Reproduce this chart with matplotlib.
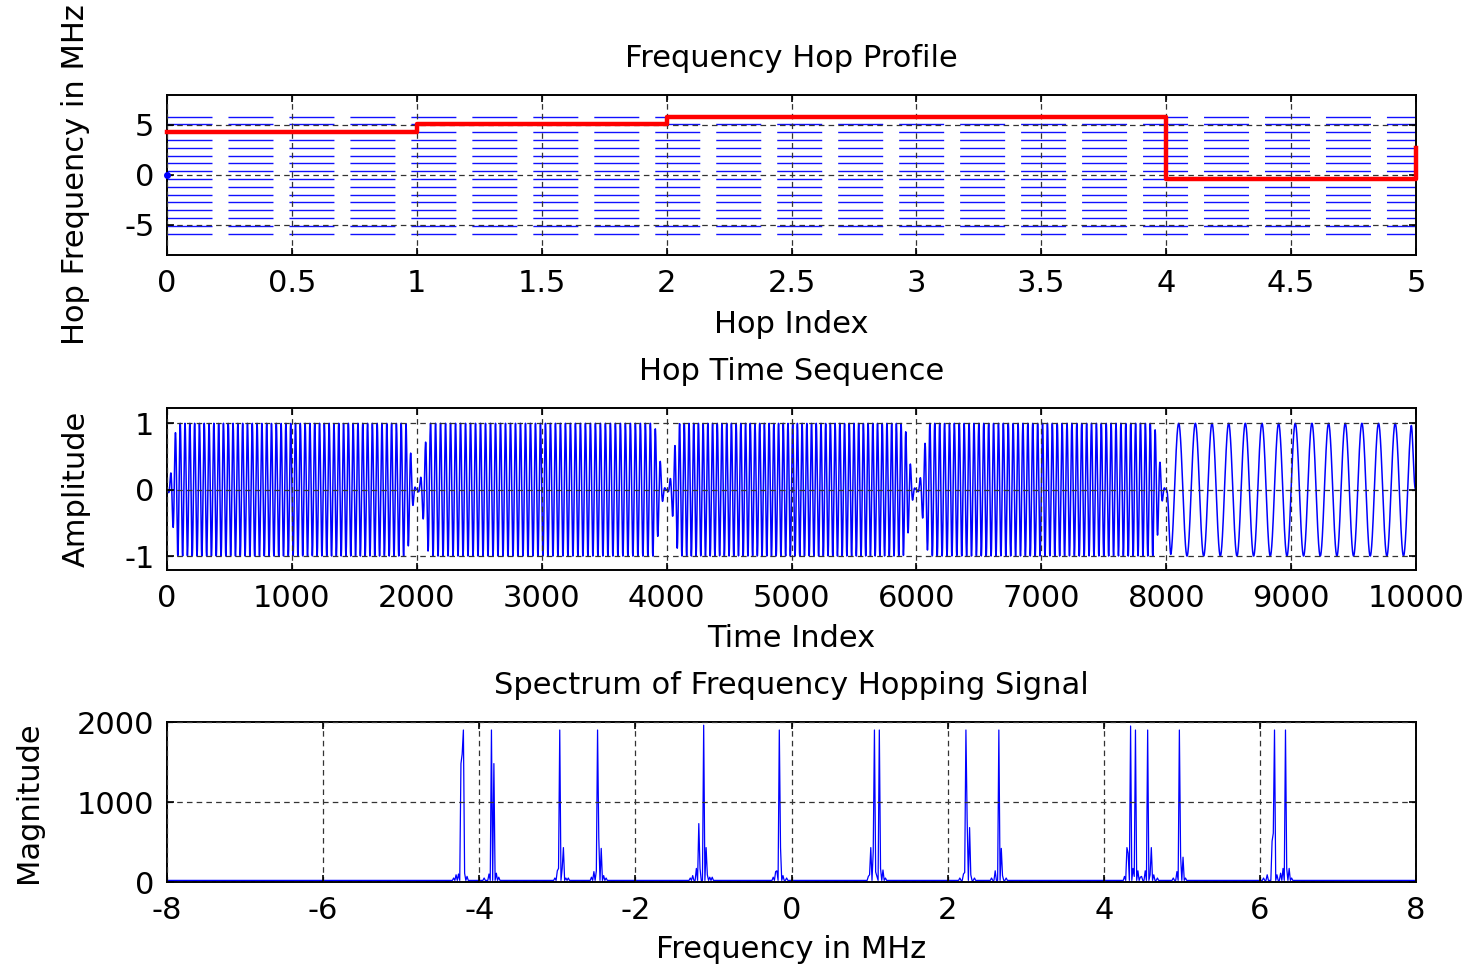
import numpy as np
import matplotlib
matplotlib.use("Agg")
import matplotlib.pyplot as plt

plt.rcParams["font.family"] = ["DejaVu Sans"]
plt.rcParams["font.size"] = 22
plt.rcParams["axes.unicode_minus"] = False
plt.rcParams["lines.scale_dashes"] = False

# ---------------- data ----------------
# Panel 1: hop profile (stairs)
hop_index = [0, 1, 2, 3, 4, 5]
hop_freq_mhz = [4.29, 5.07, 5.85, 5.85, -0.39, 2.73]
channel_levels_mhz = [-5.85, -5.07, -4.29, -3.51, -2.73, -1.95, -1.17, -0.39,
                      0.39, 1.17, 1.95, 2.73, 3.51, 4.29, 5.07, 5.85]
hop_xticks = [0, 0.5, 1, 1.5, 2, 2.5, 3, 3.5, 4, 4.5, 5]
hop_xticklabels = ["0", "0.5", "1", "1.5", "2", "2.5", "3", "3.5", "4", "4.5", "5"]
hop_yticks = [-5, 0, 5]

# Panel 2: time sequence (5 hops of 2000 samples)
hop_len = 2000
hop_cycles = [52, 50, 53, 51, 15]      # apparent cycles per hop
hop_taper = [90, 110, 110, 110, 40]    # samples of fade at hop edges
time_xticks = [0, 1000, 2000, 3000, 4000, 5000, 6000, 7000, 8000, 9000, 10000]
amp_yticks = [-1, 0, 1]

# Panel 3: spectrum peaks and side components (MHz, magnitude)
peak_freqs = [-4.21, -3.85, -2.97, -2.48, -1.12, -0.16, 1.06, 1.13,
              2.24, 2.65, 4.34, 4.41, 4.56, 4.97, 6.19, 6.33]
peak_mags = [1900, 1900, 1900, 1900, 1960, 1900, 1900, 1900,
             1900, 1900, 1950, 1900, 1900, 1900, 1900, 1900]
side_freqs = [-4.33, -4.30, -4.27, -4.24, -4.225, -4.19, -4.16,
              -3.935, -3.88, -3.84, -3.81, -3.785, -3.75,
              -3.03, -3.00, -2.985, -2.945, -2.925, -2.89, -2.86,
              -2.56, -2.53, -2.505, -2.47, -2.44, -2.41, -2.38,
              -1.29, -1.26, -1.215, -1.19, -1.165, -1.095, -1.08, -1.045, -1.01,
              -0.23, -0.20, -0.18, -0.14, -0.105, -0.06,
              0.985, 1.005, 1.02, 1.04, 1.083, 1.10, 1.147, 1.176, 1.20,
              2.16, 2.20, 2.22, 2.25, 2.275, 2.30, 2.34,
              2.565, 2.61, 2.66, 2.685, 2.71, 2.75,
              4.26, 4.30, 4.32, 4.37, 4.39, 4.44, 4.465, 4.49, 4.53,
              4.59, 4.61, 4.635, 4.68, 4.89, 4.935, 4.98, 5.01, 5.04,
              6.045, 6.095, 6.155, 6.175, 6.215, 6.26, 6.29, 6.35, 6.375, 6.40]
side_mags = [50, 90, 100, 1480, 1600, 110, 70,
             50, 100, 1600, 1480, 110, 60,
             50, 140, 170, 170, 430, 50, 50,
             60, 130, 140, 550, 420, 80, 50,
             50, 80, 170, 730, 170, 430, 90, 60, 60,
             60, 130, 140, 430, 80, 50,
             70, 90, 430, 380, 125, 70, 170, 150, 50,
             50, 100, 120, 780, 680, 90, 50,
             50, 140, 420, 420, 80, 50,
             70, 430, 360, 170, 70, 140, 60, 70, 140,
             90, 430, 90, 50, 50, 130, 330, 310, 50,
             50, 90, 510, 610, 90, 110, 170, 170, 170, 50]
spec_floor = 20
spec_bins = 1024
spec_xticks = [-8, -6, -4, -2, 0, 2, 4, 6, 8]
spec_yticks = [0, 1000, 2000]

# ---------------- derived series ----------------
segs = []
for cyc, tp in zip(hop_cycles, hop_taper):
    n = np.arange(hop_len)
    env = np.ones(hop_len)
    w = np.hanning(2 * tp)
    env[:tp] = w[:tp]
    env[-tp:] = w[tp:]
    segs.append(-np.sin(2 * np.pi * cyc * n / hop_len) * env)
signal = np.concatenate(segs)
t_index = np.arange(signal.size)

freq_axis = np.linspace(-8, 8, spec_bins, endpoint=False)
step = freq_axis[1] - freq_axis[0]
spectrum = np.full(spec_bins, float(spec_floor))
for f, m in zip(side_freqs + peak_freqs, side_mags + peak_mags):
    k = int(round((f + 8) / step))
    spectrum[k] = max(spectrum[k], m)

# ---------------- figure ----------------
fig = plt.figure(figsize=(14.72, 9.68), dpi=100)
W, H = 1472, 968
left, width = 167 / W, 1249 / W
ax1 = fig.add_axes([left, 1 - 255 / H, width, 160 / H])
ax2 = fig.add_axes([left, 1 - 570 / H, width, 162 / H])
ax3 = fig.add_axes([left, 1 - 882 / H, width, 160 / H])

grid_kw = dict(color="0.2", linestyle=(0, (4, 3)), linewidth=0.9)
FS = 22

def style(ax):
    for s in ax.spines.values():
        s.set_linewidth(1.4)
    ax.tick_params(direction="in", length=5, width=1.2, top=True, right=True,
                   labelsize=FS)
    ax.tick_params(axis="x", pad=10)
    ax.tick_params(axis="y", pad=9)
    ax.grid(True, **grid_kw)
    ax.set_axisbelow(False)

# Panel 1
for lev in channel_levels_mhz:
    ax1.plot([hop_index[0], hop_index[-1]], [lev, lev], color="#1010ff",
             linewidth=1.0, linestyle=(0, (32.4, 11.5)), zorder=2)
ax1.plot([0], [0], marker="o", color="blue", markersize=4, zorder=3, clip_on=False)
ax1.plot(hop_index, hop_freq_mhz, drawstyle="steps-post", color="#ff0000",
         linewidth=3.2, zorder=4, clip_on=False)
ax1.set_xlim(0, 5)
ax1.set_ylim(-8, 8)
ax1.set_xticks(hop_xticks)
ax1.set_xticklabels(hop_xticklabels)
ax1.set_yticks(hop_yticks)
style(ax1)
ax1.set_title("Frequency Hop Profile", fontsize=FS, pad=20)
ax1.set_xlabel("Hop Index", fontsize=FS)
ax1.xaxis.label.set_va("center")
ax1.xaxis.set_label_coords(0.5, -0.435)
ax1.set_ylabel("Hop Frequency in MHz", fontsize=FS)
ax1.yaxis.label.set_va("center")
ax1.yaxis.set_label_coords(-0.073, 0.5)

# Panel 2
ax2.plot(t_index, signal, color="#0000ff", linewidth=1.1, zorder=2)
ax2.set_xlim(0, 10000)
ax2.set_ylim(-1.21, 1.23)
ax2.set_xticks(time_xticks)
ax2.set_yticks(amp_yticks)
style(ax2)
ax2.set_title("Hop Time Sequence", fontsize=FS, pad=20)
ax2.set_xlabel("Time Index", fontsize=FS)
ax2.xaxis.label.set_va("center")
ax2.xaxis.set_label_coords(0.5, -0.42)
ax2.set_ylabel("Amplitude", fontsize=FS)
ax2.yaxis.label.set_va("center")
ax2.yaxis.set_label_coords(-0.073, 0.5)

# Panel 3
ax3.plot(freq_axis, spectrum, color="#0000ff", linewidth=0.9, zorder=2)
ax3.set_xlim(-8, 8)
ax3.set_ylim(0, 2000)
ax3.set_xticks(spec_xticks)
ax3.set_yticks(spec_yticks)
style(ax3)
ax3.set_title("Spectrum of Frequency Hopping Signal", fontsize=FS, pad=20)
ax3.set_xlabel("Frequency in MHz", fontsize=FS)
ax3.xaxis.label.set_va("center")
ax3.xaxis.set_label_coords(0.5, -0.425)
ax3.set_ylabel("Magnitude", fontsize=FS)
ax3.yaxis.label.set_va("center")
ax3.yaxis.set_label_coords(-0.111, 0.5)

fig.savefig("out.png", dpi=100)
